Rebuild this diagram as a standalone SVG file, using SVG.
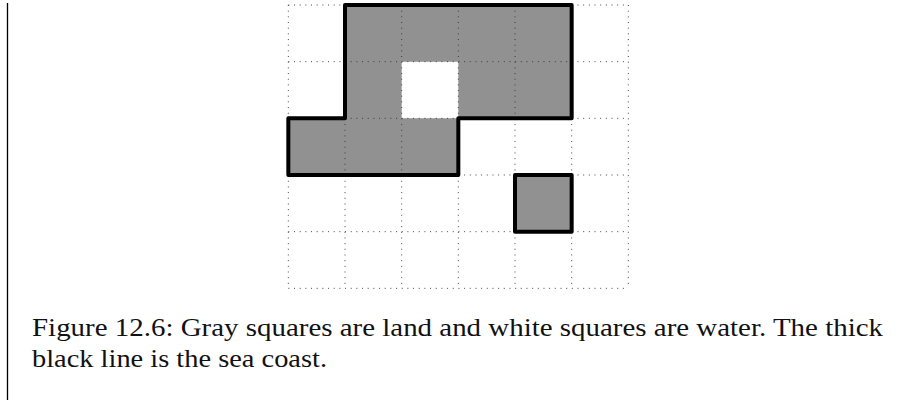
<svg xmlns="http://www.w3.org/2000/svg" width="902" height="400" viewBox="0 0 902 400">
  <style>
    .grid { stroke: #333; stroke-width: 0.9; stroke-dasharray: 1 4.67; fill: none; }
    .land { fill: #919191; fill-rule: evenodd; stroke: none; }
    .coast { fill: none; stroke: #000; stroke-width: 4; stroke-linejoin: round; }
    .caption { font-family: "Liberation Serif", "Times New Roman", serif; font-size: 25px; fill: #111; }
  </style>
  <rect width="902" height="400" fill="#fff"/>
  <line x1="7.5" y1="3" x2="7.5" y2="400" stroke="#000" stroke-width="1.3"/>

  <g id="land">
    <path class="land" d="M345,5 H571.67 V118.33 H458.33 V175 H288.33 V118.33 H345 Z M401.67,61.67 H458.33 V118.33 H401.67 Z"/>
    <rect class="land" x="515" y="175" width="56.67" height="56.67"/>
  </g>

  <g id="grid">
    <path class="grid" d="M288.33,5 V288.33 M345,5 V288.33 M401.67,5 V288.33 M458.33,5 V288.33 M515,5 V288.33 M571.67,5 V288.33 M628.33,5 V288.33 M288.33,5 H628.33 M288.33,61.67 H628.33 M288.33,118.33 H628.33 M288.33,175 H628.33 M288.33,231.67 H628.33 M288.33,288.33 H628.33"/>
  </g>

  <g id="coast">
    <path class="coast" d="M345,5 H571.67 V118.33 H458.33 V175 H288.33 V118.33 H345 Z"/>
    <rect class="coast" x="515" y="175" width="56.67" height="56.67"/>
  </g>

  <g id="caption">
    <text class="caption" x="32" y="336" textLength="851" lengthAdjust="spacingAndGlyphs">Figure 12.6: Gray squares are land and white squares are water. The thick</text>
    <text class="caption" x="32" y="367" textLength="295" lengthAdjust="spacingAndGlyphs">black line is the sea coast.</text>
  </g>
</svg>
